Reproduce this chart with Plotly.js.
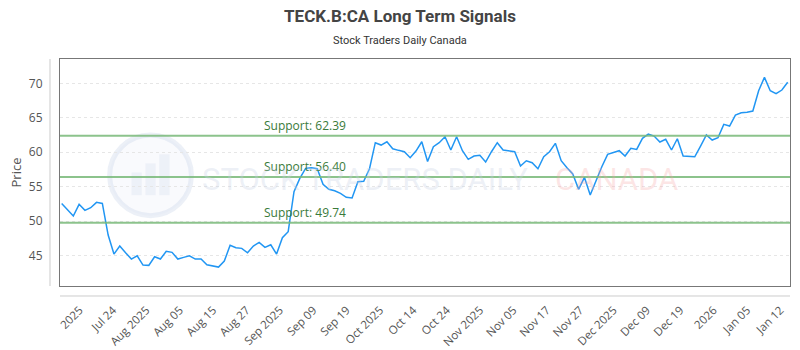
<!DOCTYPE html>
<html>
<head>
<meta charset="utf-8">
<script src="https://cdn.plot.ly/plotly-3.0.1.min.js"></script>
<style>html,body{margin:0;padding:0;background:#fff;}#chart{width:800px;height:350px;}</style>
</head>
<body>
<div id="chart"></div>
<script>
// Daily closing prices (trading-day order)
const prices = [52.56, 51.63, 50.72, 52.42, 51.55, 51.93, 52.71, 52.56, 47.96, 45.19,
  46.36, 45.39, 44.47, 44.95, 43.59, 43.55, 44.8, 44.47, 45.59, 45.44,
  44.47, 44.71, 44.95, 44.47, 44.47, 43.64, 43.49, 43.3, 44.17, 46.46,
  46.11, 46.02, 45.38, 46.36, 46.89, 46.16, 46.55, 45.19, 47.57, 48.44,
  54.26, 56.2, 57.65, 57.74, 57.6, 55.33, 54.6, 54.4, 54.02, 53.44,
  53.34, 55.71, 55.76, 57.6, 61.38, 61.04, 61.52, 60.5, 60.27, 60.07,
  59.2, 60.17, 61.52, 58.65, 60.8, 61.38, 62.25, 60.32, 62.25, 60.22,
  58.96, 59.44, 59.54, 58.57, 60.07, 61.38, 60.32, 60.22, 60.07, 57.99,
  58.76, 58.47, 57.6, 59.34, 60.07, 61.29, 58.76, 57.74, 56.83, 54.6,
  56.35, 53.77, 55.95, 57.89, 59.69, 59.93, 60.22, 59.44, 60.56, 60.41,
  62.02, 62.64, 62.35, 61.48, 61.87, 60.32, 61.96, 59.44, 59.34, 59.34,
  60.9, 62.5, 61.77, 62.1, 64.05, 63.81, 65.4, 65.74, 65.8, 65.99,
  68.94, 70.88, 68.94, 68.5, 69.04, 70.16];

const supports = [62.39, 56.40, 49.74];

const tickLabels = ["2025", "Jul 24", "Aug 2025", "Aug 05", "Aug 15", "Aug 27", "Sep 2025",
  "Sep 09", "Sep 19", "Oct 2025", "Oct 14", "Oct 24", "Nov 2025", "Nov 05", "Nov 17",
  "Nov 27", "Dec 2025", "Dec 09", "Dec 19", "2026", "Jan 05", "Jan 12"];

const yTicks = [45, 50, 55, 60, 65, 70];

// layout helpers (evenly spaced labels along the trading-day index)
const tickStart = 3.10, tickStep = 5.745;
const tickVals = tickLabels.map((_, i) => tickStart + i * tickStep);
const xIdx = prices.map((_, i) => i);

const supportColor = 'rgba(120,185,120,0.85)';
const shapes = supports.map(v => ({
  type: 'line', xref: 'paper', x0: 0, x1: 1, yref: 'y', y0: v, y1: v,
  line: {color: supportColor, width: 2}, layer: 'above'
}));
// detached axis lines
shapes.push({type: 'line', xref: 'paper', yref: 'paper', x0: -0.0137, x1: -0.0137, y0: 0, y1: 1,
  line: {color: '#cccccc', width: 1}});
shapes.push({type: 'line', xref: 'paper', yref: 'paper', x0: 0, x1: 1, y0: -0.044, y1: -0.044,
  line: {color: '#cccccc', width: 1}});
// watermark logo
shapes.push({type: 'circle', xref: 'paper', yref: 'paper', x0: 0.068, x1: 0.180, y0: 0.31, y1: 0.665,
  line: {color: 'rgba(200,212,232,0.35)', width: 5}, fillcolor: 'rgba(228,234,246,0.22)', layer: 'below'});
[[0.098, 0.112, 0.40, 0.50], [0.117, 0.131, 0.40, 0.54], [0.136, 0.150, 0.40, 0.58]].forEach(b => {
  shapes.push({type: 'rect', xref: 'paper', yref: 'paper', x0: b[0], x1: b[1], y0: b[2], y1: b[3],
    line: {width: 0}, fillcolor: 'rgba(205,215,235,0.25)', layer: 'below'});
});

const annotations = supports.map(v => ({
  xref: 'paper', yref: 'y', x: 0.277, y: v, xanchor: 'left', yanchor: 'bottom',
  text: 'Support: ' + v.toFixed(2), showarrow: false,
  font: {family: 'Open Sans, sans-serif', size: 12, color: '#3a7a3a'}
}));
annotations.push({xref: 'paper', yref: 'paper', x: 0.466, y: 1.0837, xanchor: 'center', yanchor: 'middle',
  text: 'Stock Traders Daily Canada', showarrow: false,
  font: {family: 'Roboto, sans-serif', size: 11, color: '#333'}});
annotations.push({xref: 'paper', yref: 'paper', x: 0.418, y: 0.467, xanchor: 'center', yanchor: 'middle',
  text: 'STOCK TRADERS DAILY', showarrow: false,
  font: {family: 'Roboto, sans-serif', size: 31, color: 'rgba(200,210,228,0.33)'}});
annotations.push({xref: 'paper', yref: 'paper', x: 0.762, y: 0.467, xanchor: 'center', yanchor: 'middle',
  text: 'CANADA', showarrow: false,
  font: {family: 'Roboto, sans-serif', size: 31, color: 'rgba(245,165,165,0.28)'}});

const trace = {
  x: xIdx, y: prices, type: 'scatter', mode: 'lines',
  line: {color: '#2196f3', width: 1.5}, hoverinfo: 'skip'
};

const layout = {
  width: 800, height: 350,
  margin: {l: 60, r: 10, t: 59, b: 64},
  paper_bgcolor: '#ffffff', plot_bgcolor: '#ffffff',
  showlegend: false,
  title: {text: 'TECK.B:CA Long Term Signals', xref: 'container', yref: 'container',
    x: 0.5, xanchor: 'center', y: 0.955, yanchor: 'middle',
    font: {family: 'Roboto, sans-serif', size: 17, color: '#444', weight: 700}},
  xaxis: {
    range: [-0.29, 125.4], showgrid: false, zeroline: false,
    showline: true, mirror: true, linecolor: '#777', linewidth: 1,
    tickmode: 'array', tickvals: tickVals, ticktext: tickLabels, tickangle: -45,
    ticks: '', ticklabelstandoff: 12,
    tickfont: {family: 'Open Sans, sans-serif', size: 11.5, color: '#555'}
  },
  yaxis: {
    range: [40.55, 73.55], tickmode: 'array', tickvals: yTicks,
    showgrid: true, gridcolor: '#e6e6e6', griddash: '3px,3px', zeroline: false,
    showline: true, mirror: true, linecolor: '#777', linewidth: 1,
    ticks: '', ticklabelstandoff: 14,
    tickfont: {family: 'Open Sans, sans-serif', size: 12, color: '#555'},
    title: {text: 'Price', standoff: 4, font: {family: 'Open Sans, sans-serif', size: 13, color: '#555'}}
  },
  shapes: shapes,
  annotations: annotations
};

Plotly.newPlot('chart', [trace], layout, {staticPlot: true, displayModeBar: false});
</script>
</body>
</html>
